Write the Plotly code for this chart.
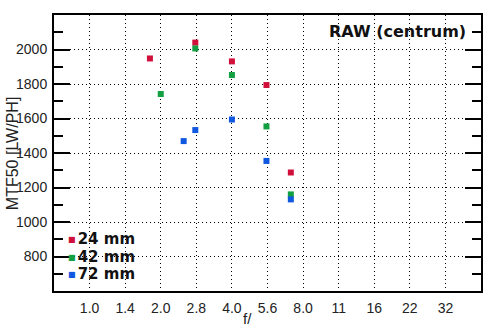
import plotly.graph_objects as go
import math

# f-stop tick labels (equal spacing of 1 stop = 2*log2(f))
tick_labels = ["1.0", "1.4", "2.0", "2.8", "4.0", "5.6", "8.0", "11", "16", "22", "32"]

# Data: aperture (f-number) and MTF50 [LW/PH]
f_24 = [1.8, 2.8, 4.0, 5.6, 7.1]
mtf_24 = [1948, 2040, 1931, 1794, 1287]

f_42 = [2.0, 2.8, 4.0, 5.6, 7.1]
mtf_42 = [1742, 2006, 1852, 1554, 1160]

f_72 = [2.5, 2.8, 4.0, 5.6, 7.1]
mtf_72 = [1469, 1533, 1594, 1354, 1131]

series_names = ["24 mm", "42 mm", "72 mm"]
colors = ["#d0103a", "#12a042", "#1058e0"]

y_major = [800, 1000, 1200, 1400, 1600, 1800, 2000]
y_minor = [700, 900, 1100, 1300, 1500, 1700, 1900, 2100]


def stop_pos(f):
    return 2 * math.log2(f)


fig = go.Figure()
for name, fs, vals, c in zip(series_names, [f_24, f_42, f_72], [mtf_24, mtf_42, mtf_72], colors):
    fig.add_trace(go.Scatter(
        x=[stop_pos(f) for f in fs], y=vals, mode="markers", name=name,
        marker=dict(symbol="square", size=6, color=c, line=dict(width=0)),
        showlegend=False,
    ))

tick_font = dict(family="Liberation Sans, Arial, sans-serif", size=14, color="#222222")
grid_dash = "1px,3px"

# legend block (inside plot, lower-left), built from series names/colours
legend_ann = []
legend_rows_y = [0.188, 0.124, 0.060]
for name, c, yy in zip(series_names, colors, legend_rows_y):
    legend_ann.append(dict(
        text=(f'<span style="color:{c};font-size:8px;baseline-shift:2px">■</span>'
              f'<span style="font-size:6px"> </span>{name}'),
        xref="paper", yref="paper", x=0.029, y=yy, xanchor="left", yanchor="middle",
        showarrow=False,
        font=dict(family="DejaVu Sans, sans-serif", size=15, color="#111111", weight="bold"),
    ))

fig.update_layout(
    width=494, height=331,
    margin=dict(l=54, r=13, t=15, b=40),
    paper_bgcolor="white", plot_bgcolor="white",
    showlegend=False,
    xaxis=dict(
        range=[-1, 11], tickmode="array", tickvals=list(range(len(tick_labels))),
        ticktext=tick_labels, tickfont=tick_font, ticks="", ticklabelstandoff=3,
        showgrid=True, gridcolor="black", gridwidth=1, griddash=grid_dash,
        showline=True, linecolor="black", linewidth=2, mirror=True, zeroline=False,
    ),
    yaxis=dict(
        range=[600, 2200], tickmode="array", tickvals=y_major, tickfont=tick_font,
        ticks="inside", ticklen=16, tickwidth=1.5, tickcolor="black", ticklabelstandoff=2,
        minor=dict(tickmode="array", tickvals=y_minor, ticks="inside", ticklen=9,
                   tickwidth=1.5, tickcolor="black", showgrid=False),
        showgrid=True, gridcolor="black", gridwidth=1, griddash=grid_dash,
        showline=True, linecolor="black", linewidth=2, mirror="ticks", zeroline=False,
    ),
    annotations=legend_ann + [
        dict(text="RAW (centrum)", xref="paper", yref="paper", x=0.9695, y=0.94,
             xanchor="right", yanchor="middle", showarrow=False,
             font=dict(family="DejaVu Sans, sans-serif", size=16, color="#111111", weight="bold")),
        dict(text="MTF50 [LW/PH]", xref="paper", yref="paper", x=-0.098, y=0.50,
             xanchor="center", yanchor="middle", textangle=-90, showarrow=False,
             font=dict(family="Liberation Sans, Arial, sans-serif", size=16, color="#222222")),
        dict(text="f/", xref="paper", yref="paper", x=0.452, y=-0.10,
             xanchor="center", yanchor="middle", showarrow=False,
             font=dict(family="Liberation Sans, Arial, sans-serif", size=15, color="#222222")),
    ],
)

fig.write_html("out.html")
